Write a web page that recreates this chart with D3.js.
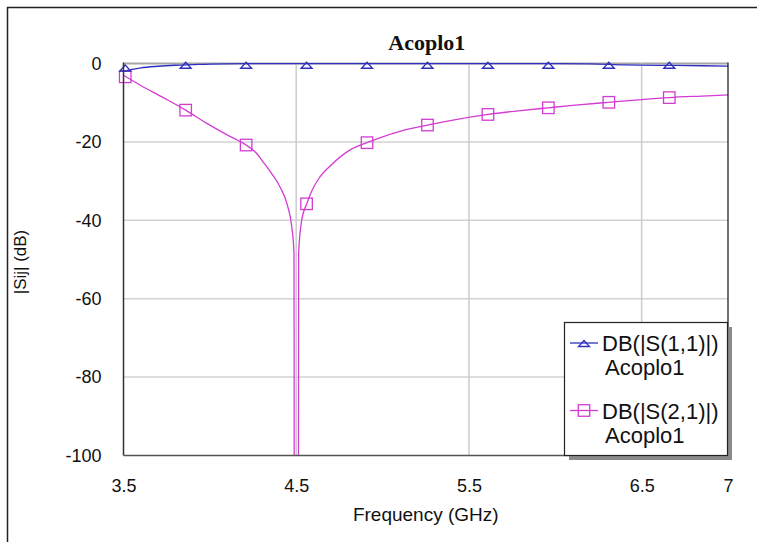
<!DOCTYPE html>
<html>
<head>
<meta charset="utf-8">
<script src="https://cdn.jsdelivr.net/npm/d3@7"></script>
<style>
  html, body { margin: 0; padding: 0; background: #fff; }
  svg { display: block; }
  text { font-family: "Liberation Sans", Arial, sans-serif; fill: #111; }
</style>
</head>
<body>
<svg id="chart" width="757" height="542"></svg>
<script>
// ---------- data ----------
const title = "Acoplo1";
const xLabel = "Frequency (GHz)";
const yLabel = "|Sij| (dB)";
const xTicks = [3.5, 4.5, 5.5, 6.5, 7];
const xGrid = [4.5, 5.5, 6.5];
const yTicks = [0, -20, -40, -60, -80, -100];

const s11Freq = [3.50, 3.55, 3.60, 3.70, 3.80, 3.90, 4.00, 4.20, 4.50, 5.00, 5.50, 6.00, 6.20, 6.40, 6.70, 7.00];
const s11Db   = [-2.0, -1.5, -1.1, -0.7, -0.45, -0.3, -0.15, -0.05, -0.02, -0.02, -0.02, -0.05, -0.1, -0.35, -0.5, -0.65];

const s21Freq = [3.50, 3.60, 3.73, 3.86, 3.98, 4.10, 4.21, 4.27, 4.31, 4.36, 4.41, 4.45, 4.474, 4.487, 4.492,
                 4.509, 4.514, 4.532, 4.561, 4.59, 4.63, 4.70, 4.81, 4.91, 5.00, 5.10, 5.26, 5.40, 5.61, 5.80,
                 5.96, 6.10, 6.31, 6.50, 6.66, 6.85, 7.00];
const s21Db   = [-3.0, -5.6, -8.7, -11.9, -15.2, -18.2, -20.8, -22.9, -25.2, -28.2, -31.8, -36.3, -41.6, -48.3, -300,
                 -300, -48.4, -39.9, -35.8, -32.5, -29.4, -26.0, -22.1, -20.2, -18.7, -17.3, -15.7, -14.5, -13.0, -12.0,
                 -11.3, -10.7, -9.9, -9.2, -8.7, -8.3, -8.0];

const markerFreq = [3.51, 3.86, 4.21, 4.56, 4.91, 5.26, 5.61, 5.96, 6.31, 6.66];
const s11MarkerDb = [-1.15, -0.45, -0.45, -0.45, -0.45, -0.45, -0.45, -0.45, -0.45, -0.45];
const s21MarkerDb = [-3.4, -11.9, -20.8, -35.8, -20.2, -15.7, -13.0, -11.3, -9.9, -8.7];

const legendNames = ["DB(|S(1,1)|)", "DB(|S(2,1)|)"];
const legendSub = ["Acoplo1", "Acoplo1"];
const colors = ["#2f2fbf", "#d23cd2"];

// ---------- layout ----------
const svg = d3.select("#chart");
const L = 123.5, R = 728, T = 63.5, B = 455.5;
const x = d3.scaleLinear().domain([3.5, 7]).range([L, R]);
const y = d3.scaleLinear().domain([-100, 0]).range([B, T]);

// outer frame (partial, as in reference)
svg.append("line").attr("x1", 7.5).attr("x2", 7.5).attr("y1", 7).attr("y2", 542)
  .attr("stroke", "#222").attr("stroke-width", 1.5);
svg.append("line").attr("x1", 7).attr("x2", 757).attr("y1", 7.5).attr("y2", 7.5)
  .attr("stroke", "#222").attr("stroke-width", 1.5);

// grid
const grid = svg.append("g");
grid.selectAll(".hg").data(yTicks.filter(d => d !== -100)).enter().append("line")
  .attr("x1", L).attr("x2", R).attr("y1", d => y(d)).attr("y2", d => y(d))
  .attr("stroke", d => d === 0 ? "#a8a8a8" : "#d2d2d2")
  .attr("stroke-width", d => d === 0 ? 2 : 1.5);
grid.selectAll(".vg").data(xGrid).enter().append("line")
  .attr("x1", d => x(d)).attr("x2", d => x(d)).attr("y1", T).attr("y2", B)
  .attr("stroke", "#cccccc").attr("stroke-width", 1.5);

// clip
svg.append("clipPath").attr("id", "plotClip").append("rect")
  .attr("x", L).attr("y", T - 8).attr("width", R - L).attr("height", B - T + 8);

const plot = svg.append("g").attr("clip-path", "url(#plotClip)");
const line = d3.line().x(d => x(d[0])).y(d => y(d[1])).curve(d3.curveMonotoneX);

plot.append("path").datum(d3.zip(s21Freq, s21Db)).attr("d", line)
  .attr("fill", "none").attr("stroke", colors[1]).attr("stroke-width", 1.3);
plot.append("path").datum(d3.zip(s11Freq, s11Db)).attr("d", line)
  .attr("fill", "none").attr("stroke", colors[0]).attr("stroke-width", 1.3);

function tri(g, cx, cy, color) {
  g.append("path")
    .attr("d", `M${cx},${cy - 3} L${cx + 5.5},${cy + 3} L${cx - 5.5},${cy + 3} Z`)
    .attr("fill", "none").attr("stroke", color).attr("stroke-width", 1.3);
}
function sq(g, cx, cy, color) {
  g.append("rect").attr("x", cx - 5.75).attr("y", cy - 5.75).attr("width", 11.5).attr("height", 11.5)
    .attr("fill", "none").attr("stroke", color).attr("stroke-width", 1.3);
}
markerFreq.forEach((f, i) => sq(svg, x(f), y(s21MarkerDb[i]), colors[1]));
markerFreq.forEach((f, i) => tri(svg, x(f), y(s11MarkerDb[i]), colors[0]));

// axes frame
svg.append("line").attr("x1", L).attr("x2", L).attr("y1", T - 1).attr("y2", B)
  .attr("stroke", "#333").attr("stroke-width", 1.5);
svg.append("line").attr("x1", L).attr("x2", R).attr("y1", B).attr("y2", B)
  .attr("stroke", "#555").attr("stroke-width", 1.5);
svg.append("line").attr("x1", R).attr("x2", R).attr("y1", T - 1).attr("y2", B)
  .attr("stroke", "#111").attr("stroke-width", 1.2);

// tick labels
const yAxis = d3.axisLeft(y).tickValues(yTicks).tickSize(0).tickPadding(22).tickFormat(d => String(d));
const ya = svg.append("g").attr("transform", `translate(${L},0)`).call(yAxis);
ya.select(".domain").remove();
ya.selectAll("text").style("font-size", "18px").style("font-family", "'Liberation Sans', Arial, sans-serif").attr("fill", "#111");

const xAxis = d3.axisBottom(x).tickValues(xTicks).tickSize(0).tickPadding(24).tickFormat(d => String(d));
const xa = svg.append("g").attr("transform", `translate(0,${B})`).call(xAxis);
xa.select(".domain").remove();
xa.selectAll("text").style("font-size", "18px").style("font-family", "'Liberation Sans', Arial, sans-serif").attr("fill", "#111");

// titles
svg.append("text").attr("x", (L + R) / 2 + 1).attr("y", 50).attr("text-anchor", "middle")
  .style("font-family", "'Liberation Serif', 'Times New Roman', serif").style("font-weight", "bold")
  .style("font-size", "22px").text(title);
svg.append("text").attr("x", (L + R) / 2).attr("y", 521).attr("text-anchor", "middle")
  .style("font-size", "19px").text(xLabel);
svg.append("text").attr("transform", "translate(26,262) rotate(-90)").attr("text-anchor", "middle")
  .style("font-size", "17px").text(yLabel);

// legend
const lg = svg.append("g");
lg.append("rect").attr("x", 569).attr("y", 327).attr("width", 163).attr("height", 133).attr("fill", "#8a8a8a");
lg.append("rect").attr("x", 564.5).attr("y", 322.5).attr("width", 163).attr("height", 133)
  .attr("fill", "#fff").attr("stroke", "#222").attr("stroke-width", 1.2);
const rowY = [343, 410.5];
legendNames.forEach((n, i) => {
  lg.append("line").attr("x1", 570).attr("x2", 598).attr("y1", rowY[i]).attr("y2", rowY[i])
    .attr("stroke", colors[i]).attr("stroke-width", 1.3);
  if (i === 0) tri(lg, 584, rowY[i] + 0.5, colors[i]); else sq(lg, 584, rowY[i], colors[i]);
  lg.append("text").attr("x", 602).attr("y", rowY[i] + 8).style("font-size", "22px").text(n);
  lg.append("text").attr("x", 605).attr("y", rowY[i] + 32).style("font-size", "22px").text(legendSub[i]);
});
</script>
</body>
</html>
